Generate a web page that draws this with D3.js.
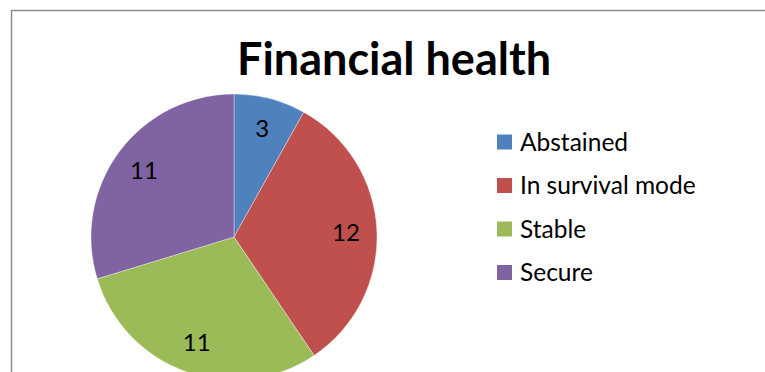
<!DOCTYPE html>
<html>
<head>
<meta charset="utf-8">
<script src="https://cdn.jsdelivr.net/npm/d3@7"></script>
<style>
  html, body { margin: 0; padding: 0; background: #fff; overflow: hidden; }
  svg { display: block; }
</style>
</head>
<body>
<svg id="chart" width="765" height="372"></svg>
<script>
// Survey results: financial health of respondents
const categories = ["Abstained", "In survival mode", "Stable", "Secure"];
const counts = [3, 12, 11, 11];
const colors = ["#4F81BD", "#C0504D", "#9BBB59", "#8064A2"];
const title = "Financial health";

const svg = d3.select("#chart");
const font = "Lato, 'Open Sans', sans-serif";

// Chart frame (extends past the right and bottom of the view)
svg.append("rect")
  .attr("x", 11.5).attr("y", 10.5)
  .attr("width", 800).attr("height", 400)
  .attr("fill", "#fff")
  .attr("stroke", "#8c8c8c")
  .attr("stroke-width", 1.5);

// Title
svg.append("text")
  .attr("x", 394).attr("y", 75)
  .attr("text-anchor", "middle")
  .attr("font-family", font)
  .attr("font-weight", 700)
  .attr("font-size", 45)
  .attr("fill", "#000")
  .text(title);

// Pie
const cx = 234, cy = 237, r = 143;
const pie = d3.pie().sort(null).value(d => d)(counts);
const arc = d3.arc().innerRadius(0).outerRadius(r);

const g = svg.append("g").attr("transform", `translate(${cx},${cy})`);
g.selectAll("path.slice")
  .data(pie)
  .join("path")
  .attr("class", "slice")
  .attr("d", arc)
  .attr("fill", (d, i) => colors[i])
  .attr("stroke", "#ffffff")
  .attr("stroke-opacity", 0.6)
  .attr("stroke-width", 0.6);

// Value labels at ~78% of the radius
const lr = 112;
g.selectAll("text.val")
  .data(pie)
  .join("text")
  .attr("class", "val")
  .attr("x", d => lr * Math.sin((d.startAngle + d.endAngle) / 2))
  .attr("y", d => -lr * Math.cos((d.startAngle + d.endAngle) / 2))
  .attr("dy", "0.36em")
  .attr("text-anchor", "middle")
  .attr("font-family", font)
  .attr("font-size", 24)
  .attr("fill", "#000")
  .text(d => d.data);

// Legend
const legend = svg.append("g").attr("transform", "translate(497,142)");
const row = legend.selectAll("g")
  .data(categories)
  .join("g")
  .attr("transform", (d, i) => `translate(0,${i * 43.5})`);
row.append("rect")
  .attr("x", 0).attr("y", -7.5)
  .attr("width", 15).attr("height", 15)
  .attr("fill", (d, i) => colors[i]);
row.append("text")
  .attr("x", 23).attr("y", 0)
  .attr("dy", "0.36em")
  .attr("font-family", font)
  .attr("font-size", 24.5)
  .attr("fill", "#000")
  .text(d => d);
</script>
</body>
</html>
